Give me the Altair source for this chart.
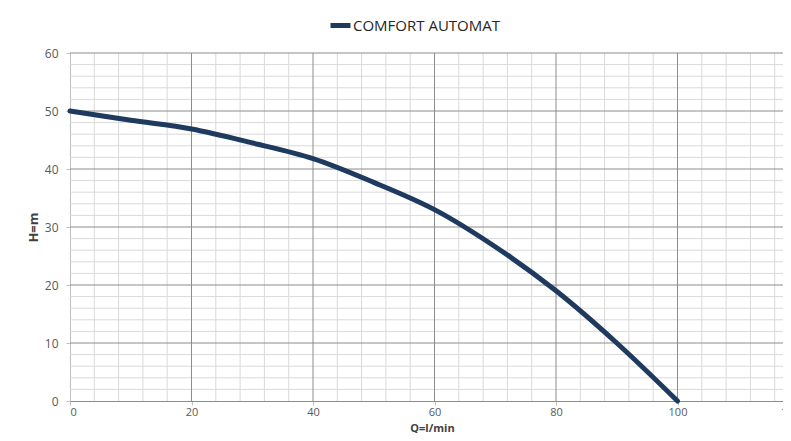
import altair as alt
import pandas as pd

# Data
series_name = "COMFORT AUTOMAT"
q_values = [0, 10, 20, 30, 40, 50, 60, 70, 80, 90, 100]
h_values = [50, 48.4, 46.9, 44.5, 41.8, 37.7, 33.0, 26.6, 19.0, 10.0, 0]

x_major = [0, 20, 40, 60, 80, 100, 120]
y_major = [0, 10, 20, 30, 40, 50, 60]
x_minor = [v for v in range(0, 121, 4) if v % 20 != 0]
y_minor = [v for v in range(0, 61, 2) if v % 10 != 0]

curve = pd.DataFrame({"Q": q_values, "H": h_values, "series": [series_name] * len(q_values)})
xmin_df = pd.DataFrame({"Q": x_minor})
ymin_df = pd.DataFrame({"H": y_minor})
xmaj_df = pd.DataFrame({"Q": [v for v in x_major if v > 0]})
ymaj_df = pd.DataFrame({"H": [v for v in y_major if v > 0]})

FONT = "Open Sans"
xscale = alt.Scale(domain=[0, 120], nice=False, zero=False)
yscale = alt.Scale(domain=[0, 60], nice=False, zero=False)

minor_color = "#d9d9d9"
major_color = "#8c8c8c"

x_axis = alt.Axis(
    values=x_major, grid=False, domainColor="#8c8c8c", tickColor="#bfbfbf",
    tickSize=4, labelPadding=1, labelFontSize=11, labelColor="#595959",
    labelFont=FONT, titleFont=FONT, titleFontSize=11, titleFontWeight="bold",
    titleColor="#404040", titleX=362, titleY=32, titleBaseline="bottom",
)
y_axis = alt.Axis(
    values=y_major, grid=False, domainColor="#bfbfbf", tickColor="#bfbfbf",
    tickSize=4, labelPadding=8, labelFontSize=12, labelColor="#595959",
    labelFont=FONT, titleFont=FONT, titleFontSize=13, titleFontWeight="bold",
    titleColor="#404040", titleX=-37, titleY=174, titleBaseline="middle",
)
X = lambda f: alt.X(f"{f}:Q", scale=xscale, title="Q=l/min", axis=x_axis)
Y = lambda f: alt.Y(f"{f}:Q", scale=yscale, title="H=m", axis=y_axis)

vmin = alt.Chart(xmin_df).mark_rule(color=minor_color, strokeWidth=1).encode(x=X("Q"))
hmin = alt.Chart(ymin_df).mark_rule(color=minor_color, strokeWidth=1).encode(y=Y("H"))
vmaj = alt.Chart(xmaj_df).mark_rule(color=major_color, strokeWidth=1).encode(x=X("Q"))
hmaj = alt.Chart(ymaj_df).mark_rule(color=major_color, strokeWidth=1).encode(y=Y("H"))

line = alt.Chart(curve).mark_line(strokeWidth=5, interpolate="catmull-rom", strokeCap="round").encode(
    x=X("Q"),
    y=Y("H"),
    color=alt.Color(
        "series:N",
        scale=alt.Scale(domain=[series_name], range=["#1f3a5f"]),
        legend=alt.Legend(
            title=None, orient="none", legendX=258, legendY=-40,
            symbolType="stroke", symbolSize=400, symbolStrokeWidth=5,
            labelFont=FONT, labelFontSize=15, labelColor="#262626",
            labelOffset=0, padding=0,
        ),
    ),
)

chart = (
    alt.layer(vmin, hmin, vmaj, hmaj, line)
    .properties(
        width=729, height=348,
        autosize=alt.AutoSizeParams(type="none"),
        padding={"left": 62, "top": 45, "right": -16, "bottom": 32},
    )
    .configure_view(stroke=None)
)

chart.save("out.html", embed_options={"renderer": "svg", "actions": False})
